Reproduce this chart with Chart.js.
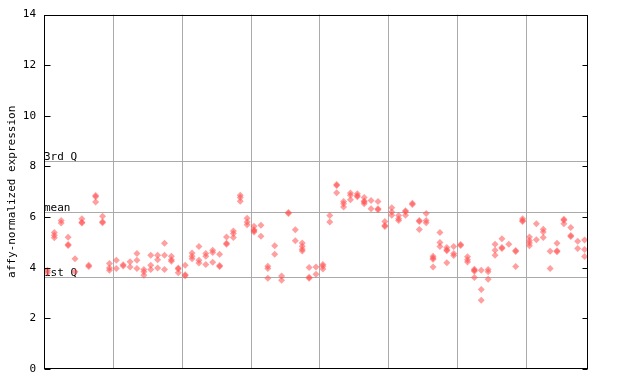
<!DOCTYPE html>
<html>
<head>
<meta charset="utf-8">
<style>html,body{margin:0;padding:0;background:#fff}</style>
<script src="https://cdn.jsdelivr.net/npm/chart.js@4/dist/chart.umd.min.js"></script>
</head>
<body>
<canvas id="c" width="640" height="384"></canvas>
<script>
// Expression values per sample, in groups of 10 samples (replicates per sample)
const group1 = [[3.9,3.8],[5.39,5.28,5.18],[5.87,5.77],[5.2,4.92,4.88],[4.36,3.84],[5.94,5.8,5.77],[4.1,4.05],[6.85,6.8,6.6],[6.03,5.82,5.78],[4.17,3.99,3.9]];
const group2 = [[4.3,3.97],[4.12,4.07],[4.24,4.03],[4.56,4.3,3.97],[3.93,3.84,3.7],[4.49,4.1,3.93],[4.49,4.32,3.99],[4.97,4.49,3.93],[4.45,4.32,4.26],[3.99,3.95,3.8]];
const group3 = [[4.1,3.72,3.68],[4.58,4.45,4.36],[4.84,4.3,4.19],[4.56,4.45,4.13],[4.69,4.6,4.22],[4.53,4.09,4.05],[5.21,4.97,4.93],[5.45,5.35,5.19],[6.86,6.77,6.63],[5.96,5.81,5.7]];
const group4 = [[5.64,5.5,5.46,5.41],[5.68,5.24],[4.06,3.97,3.58],[4.87,4.53],[3.67,3.51],[6.18,6.14],[5.5,5.07],[4.98,4.85,4.73,4.66],[4.01,3.62,3.58],[4.03,3.74]];
const group5 = [[4.13,4.06,3.95],[6.06,5.81],[7.29,7.25,6.96],[6.62,6.53,6.4],[6.95,6.86,6.69],[6.92,6.84,6.8],[6.77,6.64,6.6,6.53],[6.66,6.33],[6.62,6.33,6.29],[5.83,5.67,5.63]];
const group6 = [[6.37,6.2,6.07],[6.06,5.94,5.87],[6.25,6.21,6.07],[6.55,6.5],[5.87,5.83,5.51],[6.14,5.87,5.78],[4.45,4.38,4.34,4.03],[5.39,5.0,4.84],[4.8,4.71,4.67,4.2],[4.84,4.56,4.48]];
const group7 = [[4.92,4.88],[4.43,4.32,4.23],[3.94,3.9,3.86,3.61],[3.9,3.14,2.72],[3.93,3.84,3.55],[4.93,4.69,4.49],[5.15,4.8,4.76],[4.93],[4.68,4.64,4.05],[5.94,5.87,5.83]];
const group8 = [[5.21,5.08,4.98,4.87],[5.74,5.11],[5.52,5.41,5.19],[4.65,3.97],[4.97,4.67,4.63],[5.92,5.88,5.74],[5.59,5.27,5.23],[5.05,4.76],[5.1,4.72,4.44]];

const quartileLines = [
  {label: '3rd Q', value: 8.23},
  {label: 'mean', value: 6.21},
  {label: '1st Q', value: 3.63}
];
const yTicks = [0,2,4,6,8,10,12,14];
const groupBoundaries = [10,20,30,40,50,60,70];
const yTitle = 'affy-normalized expression';

const groups = [group1,group2,group3,group4,group5,group6,group7,group8];
const samples = [].concat(...groups);
const points = [];
samples.forEach((reps, i) => reps.forEach(v => points.push({x: i + 0.5, y: v})));

const FONT = '11px "DejaVu Sans Mono", monospace';

const decor = {
  id: 'decor',
  beforeDatasetsDraw(chart) {
    const {ctx, chartArea: a, scales: {x, y}} = chart;
    ctx.save();
    ctx.strokeStyle = '#aaaaaa';
    ctx.lineWidth = 1;
    groupBoundaries.forEach(b => {
      const px = Math.round(x.getPixelForValue(b)) + 0.5;
      ctx.beginPath(); ctx.moveTo(px, a.top); ctx.lineTo(px, a.bottom); ctx.stroke();
    });
    ctx.font = FONT;
    ctx.fillStyle = '#000';
    ctx.textAlign = 'left';
    ctx.textBaseline = 'alphabetic';
    quartileLines.forEach(q => {
      const py = Math.round(y.getPixelForValue(q.value)) + 0.5;
      ctx.beginPath(); ctx.moveTo(a.left, py); ctx.lineTo(a.right, py); ctx.stroke();
      ctx.fillText(q.label, a.left, py - 1.5);
    });
    ctx.restore();
  },
  afterDraw(chart) {
    const {ctx, chartArea: a, scales: {y}} = chart;
    ctx.save();
    ctx.strokeStyle = '#000';
    ctx.lineWidth = 1;
    const L = Math.round(a.left) + 0.5, R = Math.round(a.right) - 0.5;
    const T = Math.round(a.top) + 0.5, B = Math.round(a.bottom) - 0.5;
    ctx.strokeRect(L, T, R - L, B - T);
    yTicks.forEach(t => {
      const py = Math.round(y.getPixelForValue(t)) + 0.5;
      ctx.beginPath();
      ctx.moveTo(L, py); ctx.lineTo(L + 6, py);
      ctx.moveTo(R, py); ctx.lineTo(R - 5, py);
      ctx.stroke();
    });
    ctx.translate(12, (a.top + a.bottom) / 2);
    ctx.rotate(-Math.PI / 2);
    ctx.font = FONT;
    ctx.fillStyle = '#000';
    ctx.textAlign = 'center';
    ctx.textBaseline = 'middle';
    ctx.fillText(yTitle, 0, 0);
    ctx.restore();
  }
};

new Chart(document.getElementById('c'), {
  type: 'scatter',
  data: {
    datasets: [{
      data: points,
      pointStyle: 'rectRot',
      pointRadius: 3.5,
      pointBorderWidth: 0,
      pointBackgroundColor: 'rgba(255,80,80,0.55)',
      pointBorderColor: 'rgba(255,80,80,0)'
    }]
  },
  options: {
    responsive: false,
    animation: false,
    devicePixelRatio: 1,
    layout: {padding: {left: 0, right: 52, top: 13, bottom: 15}},
    plugins: {legend: {display: false}, tooltip: {enabled: false}},
    scales: {
      x: {type: 'linear', min: 0, max: samples.length, display: false},
      y: {
        min: 0, max: 14,
        afterBuildTicks(s) { s.ticks = yTicks.map(v => ({value: v})); },
        afterFit(s) { s.width = 44; },
        ticks: {color: '#000', font: {family: '"DejaVu Sans Mono", monospace', size: 11}, padding: 8},
        grid: {display: false, drawTicks: false},
        border: {display: false}
      }
    }
  },
  plugins: [decor]
});
</script>
</body>
</html>
